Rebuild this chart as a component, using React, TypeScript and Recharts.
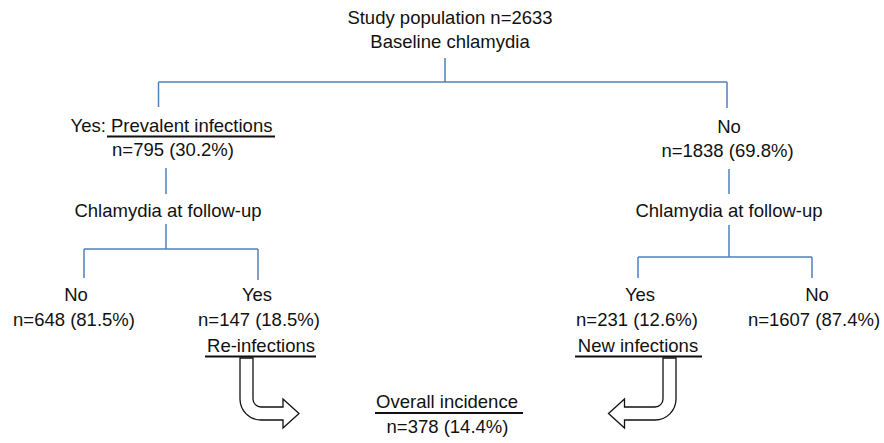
import React from "react";
import { ScatterChart, Scatter, XAxis, YAxis, ReferenceLine } from "recharts";

const W = 884;
const H = 443;

const LINE_BLUE = "#4f81bd";
const FONT = "'Liberation Sans', Arial, Helvetica, sans-serif";

// boxes of the flow diagram: text, centre x, baseline y (plot units = px)
const headerLabels = [
  { text: "Study population n=2633", x: 450, y: 24 },
  { text: "Baseline chlamydia", x: 450, y: 48 },
];

const baselineLabels = [
  { text: "Yes: Prevalent infections", x: 171.5, y: 132 },
  { text: "n=795 (30.2%)", x: 173, y: 156 },
  { text: "No", x: 729, y: 133 },
  { text: "n=1838 (69.8%)", x: 727.5, y: 157 },
];

const followUpLabels = [
  { text: "Chlamydia at follow-up", x: 168, y: 217 },
  { text: "Chlamydia at follow-up", x: 729, y: 217 },
];

const outcomeLabels = [
  { text: "No", x: 76, y: 301 },
  { text: "n=648 (81.5%)", x: 74, y: 326 },
  { text: "Yes", x: 257, y: 301 },
  { text: "n=147 (18.5%)", x: 259, y: 326 },
  { text: "Re-infections", x: 261, y: 351.5 },
  { text: "Yes", x: 640, y: 301 },
  { text: "n=231 (12.6%)", x: 637, y: 326 },
  { text: "New infections", x: 638, y: 351.5 },
  { text: "No", x: 817, y: 301 },
  { text: "n=1607 (87.4%)", x: 814, y: 326 },
];

const incidenceLabels = [
  { text: "Overall incidence", x: 447, y: 408 },
  { text: "n=378 (14.4%)", x: 447.5, y: 433 },
];

// [x1, y1, x2, y2]
const connectors: [number, number, number, number][] = [
  [445, 58, 445, 82],
  [158.5, 82, 727, 82],
  [158.5, 82, 158.5, 107],
  [727, 82, 727, 108],
  [166, 168, 166, 194],
  [729, 169, 729, 194],
  [166, 224, 166, 249],
  [84, 249, 258, 249],
  [84, 249, 84, 278],
  [258, 249, 258, 280],
  [729, 225, 729, 257],
  [638, 257, 812, 257],
  [638, 257, 638, 278],
  [812, 257, 812, 278],
];

// [x1, x2, y]
const underlines: [number, number, number][] = [
  [107, 275, 136.5],
  [205, 316, 356.5],
  [575, 702, 356.5],
  [375, 523, 413],
];

// block arrows: top of shaft, direction of the turn, horizontal run to head
const arrows = [
  { x: 246.5, y: 358, dir: 1, run: 36.5 },
  { x: 669.5, y: 358, dir: -1, run: 45 },
];

const LabelShape = (props: any) => {
  const { cx, cy, payload } = props;
  return (
    <text
      x={cx}
      y={cy}
      textAnchor="middle"
      fontFamily={FONT}
      fontSize={18.5}
      fill="#111"
    >
      {payload.text}
    </text>
  );
};

const ArrowShape = (props: any) => {
  const { cx, cy, payload } = props;
  const d = payload.dir;
  const run = payload.run;
  const hw = 6.5; // half shaft width
  const drop = 49;
  const ri = 8;
  const ro = ri + hw * 2;
  const headLen = 16;
  const headHalf = 14.5;
  const mid = drop + hw;
  const X = (v: number) => cx + d * v;
  const Y = (v: number) => cy + v;
  const sweepIn = d === 1 ? 0 : 1;
  const sweepOut = d === 1 ? 1 : 0;
  const path = [
    `M ${X(-hw)} ${Y(0)}`,
    `L ${X(hw)} ${Y(0)}`,
    `L ${X(hw)} ${Y(drop - ri)}`,
    `A ${ri} ${ri} 0 0 ${sweepIn} ${X(hw + ri)} ${Y(drop)}`,
    `L ${X(run)} ${Y(drop)}`,
    `L ${X(run)} ${Y(mid - headHalf)}`,
    `L ${X(run + headLen)} ${Y(mid)}`,
    `L ${X(run)} ${Y(mid + headHalf)}`,
    `L ${X(run)} ${Y(drop + hw * 2)}`,
    `L ${X(hw + ri)} ${Y(drop + hw * 2)}`,
    `A ${ro} ${ro} 0 0 ${sweepOut} ${X(-hw)} ${Y(drop + hw * 2 - ro)}`,
    "Z",
  ].join(" ");
  return <path d={path} fill="#fff" stroke="#111" strokeWidth={1.3} strokeLinejoin="miter" />;
};

export default function App() {
  const labelSets = [headerLabels, baselineLabels, followUpLabels, outcomeLabels, incidenceLabels];
  return (
    <div style={{ position: "absolute", left: 0, top: 0, background: "#fff" }}>
      <ScatterChart width={W} height={H} margin={{ top: 0, right: 0, bottom: 0, left: 0 }}>
        <XAxis type="number" dataKey="x" domain={[0, W]} allowDataOverflow hide />
        <YAxis type="number" dataKey="y" domain={[0, H]} allowDataOverflow reversed hide />
        {connectors.map(([x1, y1, x2, y2], i) => (
          <ReferenceLine
            key={`c${i}`}
            segment={[{ x: x1, y: y1 }, { x: x2, y: y2 }]}
            stroke={LINE_BLUE}
            strokeWidth={1.5}
            ifOverflow="visible"
          />
        ))}
        {underlines.map(([x1, x2, y], i) => (
          <ReferenceLine
            key={`u${i}`}
            segment={[{ x: x1, y }, { x: x2, y }]}
            stroke="#111"
            strokeWidth={2}
            ifOverflow="visible"
          />
        ))}
        <Scatter data={arrows} shape={ArrowShape} isAnimationActive={false} />
        {labelSets.map((set, i) => (
          <Scatter key={`l${i}`} data={set} shape={LabelShape} isAnimationActive={false} />
        ))}
      </ScatterChart>
    </div>
  );
}
